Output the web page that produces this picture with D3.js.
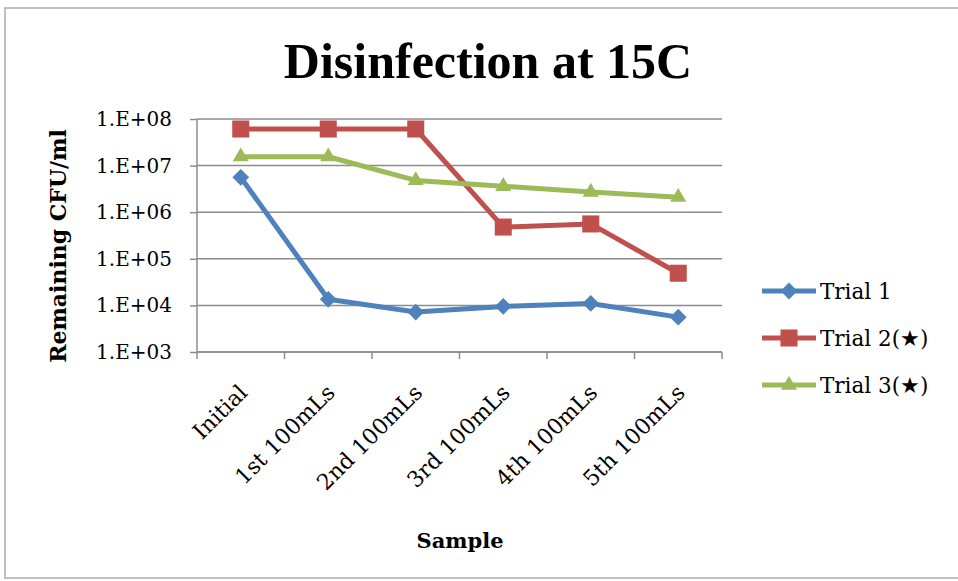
<!DOCTYPE html>
<html><head><meta charset="utf-8">
<script src="https://cdn.jsdelivr.net/npm/d3@7"></script>
<style>body{margin:0;background:#fff}svg{display:block}</style>
</head><body>
<svg id="chart" width="958" height="581"></svg>
<script>
const categories = ["Initial","1st 100mLs","2nd 100mLs","3rd 100mLs","4th 100mLs","5th 100mLs"];
const trial1 = [5.6e6, 1.35e4, 7.2e3, 9.5e3, 1.1e4, 5.6e3];
const trial2 = [6.1e7, 6.1e7, 6.1e7, 4.8e5, 5.6e5, 4.9e4];
const trial3 = [1.55e7, 1.55e7, 4.8e6, 3.6e6, 2.7e6, 2.1e6];
const seriesNames = ["Trial 1","Trial 2(★)","Trial 3(★)"];
const yTicks = [1e3,1e4,1e5,1e6,1e7,1e8];

const colors = ["#4F81BD","#C0504D","#9BBB59"];
const symbols = [d3.symbolDiamond2, d3.symbolSquare2, d3.symbolTriangle2];
const symSizes = [180, 370, 185];
const series = [trial1, trial2, trial3];

const svg = d3.select("#chart");
const pL = 197, pR = 722, pT = 119, pB = 352;
const x = d3.scaleBand().domain(categories).range([pL, pR]);
const y = d3.scaleLog().domain([1e3,1e8]).range([pB, pT]);
const serif = "'DejaVu Serif'";

// frame
svg.append("rect").attr("x",5).attr("y",8).attr("width",970).attr("height",570)
  .attr("fill","none").attr("stroke","#bfbfbf").attr("stroke-width",2);

// title
svg.append("text").attr("x",488).attr("y",78).attr("text-anchor","middle")
  .style("font-family","'Liberation Serif'").style("font-weight","bold")
  .style("font-size","50px").text("Disinfection at 15C");

// gridlines
svg.append("g").selectAll("line").data(yTicks).join("line")
  .attr("x1",pL).attr("x2",pR).attr("y1",d=>y(d)).attr("y2",d=>y(d))
  .attr("stroke","#8c8c8c").attr("stroke-width",1.5);

// y axis
const yAxis = svg.append("g").attr("transform",`translate(${pL},0)`)
  .call(d3.axisLeft(y).tickValues(yTicks).tickSize(7).tickPadding(18)
    .tickFormat(d=>"1.E+" + String(Math.round(Math.log10(d))).padStart(2,"0")));
yAxis.selectAll("path,line").attr("stroke","#8c8c8c").attr("stroke-width",1.5);
yAxis.select(".domain").attr("d",`M0,${pT}V${pB}`);
yAxis.selectAll("text").style("font-family",serif).style("font-size","20px").attr("fill","#000");

// x axis
const xAxis = svg.append("g").attr("transform",`translate(0,${pB})`);
xAxis.append("line").attr("x1",pL).attr("x2",pR).attr("stroke","#8c8c8c").attr("stroke-width",1.5);
const bounds = categories.map(c=>x(c)).concat([pR]);
xAxis.selectAll(".tk").data(bounds).join("line").attr("class","tk")
  .attr("x1",d=>d).attr("x2",d=>d).attr("y1",0).attr("y2",7)
  .attr("stroke","#8c8c8c").attr("stroke-width",1.5);
xAxis.selectAll(".lbl").data(categories).join("text").attr("class","lbl")
  .attr("transform",d=>`translate(${x(d)+x.bandwidth()/2-3},${31}) rotate(-45)`)
  .attr("text-anchor","end").attr("dy","0.7em")
  .style("font-family",serif).style("font-size","22px").text(d=>d);

// axis titles
svg.append("text").attr("transform",`translate(66,246) rotate(-90)`)
  .attr("text-anchor","middle")
  .style("font-family",serif).style("font-weight","bold").style("font-size","22px")
  .text("Remaining CFU/ml");
svg.append("text").attr("x",460).attr("y",548).attr("text-anchor","middle")
  .style("font-family",serif).style("font-weight","bold").style("font-size","21px")
  .text("Sample");

// lines
const line = d3.line().x((d,i)=>x(categories[i])+x.bandwidth()/2).y(d=>y(d));
series.forEach((s,k)=>{
  svg.append("path").datum(s).attr("d",line).attr("fill","none")
    .attr("stroke",colors[k]).attr("stroke-width",5).attr("stroke-linejoin","round");
});
series.forEach((s,k)=>{
  svg.append("g").selectAll("path").data(s).join("path")
    .attr("transform",(d,i)=>`translate(${x(categories[i])+x.bandwidth()/2},${y(d)})`)
    .attr("d",d3.symbol().type(symbols[k]).size(symSizes[k])).attr("fill",colors[k]);
});

// legend
const leg = svg.append("g");
seriesNames.forEach((n,k)=>{
  const ly = 291 + k*47;
  leg.append("line").attr("x1",762).attr("x2",816).attr("y1",ly).attr("y2",ly)
    .attr("stroke",colors[k]).attr("stroke-width",5);
  leg.append("path").attr("transform",`translate(789,${ly})`)
    .attr("d",d3.symbol().type(symbols[k]).size(symSizes[k])).attr("fill",colors[k]);
  leg.append("text").attr("x",820).attr("y",ly).attr("dy","0.35em")
    .style("font-family",serif).style("font-size","21.5px").text(n);
});
</script>
</body></html>
